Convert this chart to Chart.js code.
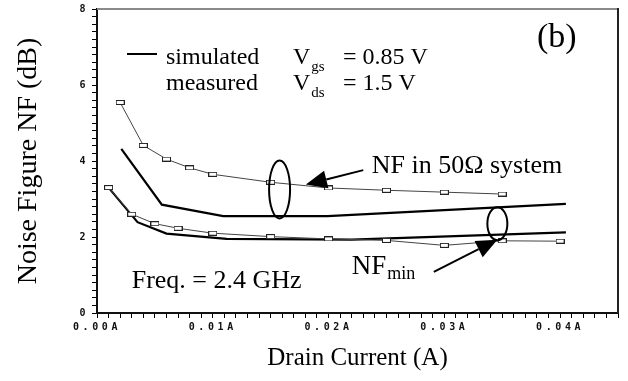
<!DOCTYPE html>
<html>
<head>
<meta charset="utf-8">
<script src="https://cdn.jsdelivr.net/npm/chart.js@4.4.1/dist/chart.umd.min.js"></script>
<style>
  body { margin: 0; background: #fff; }
  #wrap { width: 628px; height: 381px; }
</style>
</head>
<body>
<div id="wrap"><canvas id="nfChart"></canvas></div>
<script>
// Drain current (A) and noise figure (dB)
var measNF50X = [0.002, 0.004, 0.006, 0.008, 0.010, 0.015, 0.020, 0.025, 0.030, 0.035];
var measNF50Y = [5.54, 4.41, 4.05, 3.82, 3.65, 3.44, 3.29, 3.23, 3.18, 3.13];

var measMinX = [0.001, 0.003, 0.005, 0.007, 0.010, 0.015, 0.020, 0.025, 0.030, 0.035, 0.040];
var measMinY = [3.30, 2.60, 2.35, 2.23, 2.10, 2.01, 1.95, 1.91, 1.78, 1.90, 1.89];

var simNF50X = [0.0021, 0.0056, 0.0109, 0.0199, 0.0405];
var simNF50Y = [4.32, 2.85, 2.55, 2.55, 2.87];

var simMinX = [0.001, 0.0035, 0.006, 0.0112, 0.022, 0.0405];
var simMinY = [3.30, 2.39, 2.09, 1.95, 1.93, 2.12];

// axis ticks
var xMax = 0.045;
var xStep = 0.001;
var xLabelEvery = 0.01;
var yMax = 8;
var yStep = 0.2;
var yLabelEvery = 2;

var serif = "'Liberation Serif', 'Times New Roman', serif";
var mono = "'DejaVu Sans Mono', 'Liberation Mono', monospace";

function pts(xs, ys) {
  return xs.map(function (x, i) { return { x: x, y: ys[i] }; });
}
function isMultiple(v, m) {
  var q = v / m;
  return Math.abs(q - Math.round(q)) < 1e-6;
}

// hollow rectangle marker
var marker = document.createElement("canvas");
marker.width = 9;
marker.height = 5;
var mc = marker.getContext("2d");
mc.fillStyle = "#fff";
mc.fillRect(0, 0, 9, 5);
mc.strokeStyle = "#222";
mc.lineWidth = 1;
mc.strokeRect(0.5, 0.5, 8, 4);

// frame, annotations and wide-spaced tick labels
var annotate = {
  id: "annotate",
  beforeDatasetsDraw: function (chart) {
    var ctx = chart.ctx, a = chart.chartArea;
    ctx.save();
    ctx.lineWidth = 2;
    ctx.strokeStyle = "#8a8a8a";
    ctx.beginPath();
    ctx.moveTo(a.left, a.top);
    ctx.lineTo(a.right, a.top);
    ctx.stroke();
    ctx.strokeStyle = "#222";
    ctx.beginPath();
    ctx.moveTo(a.right, a.top - 1);
    ctx.lineTo(a.right, a.bottom);
    ctx.stroke();
    ctx.restore();
  },
  afterDatasetsDraw: function (chart) {
    chart.ctx.letterSpacing = "3.6px";
  },
  afterDraw: function (chart) {
    var ctx = chart.ctx;
    var xs = chart.scales.x, ys = chart.scales.y;
    function px(x) { return xs.getPixelForValue(x); }
    function py(y) { return ys.getPixelForValue(y); }
    ctx.letterSpacing = "0px";
    ctx.save();
    ctx.fillStyle = "#000";
    ctx.strokeStyle = "#000";
    ctx.textAlign = "left";
    ctx.textBaseline = "alphabetic";

    // legend
    ctx.lineWidth = 2;
    ctx.beginPath();
    ctx.moveTo(127, 54);
    ctx.lineTo(157, 54);
    ctx.stroke();
    ctx.font = "24px " + serif;
    ctx.fillText("simulated", 166, 64);
    ctx.fillText("measured", 166, 89.5);

    function sub(main, s, x, y, size, subSize, drop) {
      ctx.font = size + "px " + serif;
      ctx.fillText(main, x, y);
      var w = ctx.measureText(main).width;
      ctx.font = subSize + "px " + serif;
      ctx.fillText(s, x + w + 1, y + drop);
    }
    sub("V", "gs", 293, 64, 24, 15, 7);
    sub("V", "ds", 293, 89.5, 24, 15, 7);
    ctx.font = "24px " + serif;
    ctx.fillText("= 0.85 V", 343, 64);
    ctx.fillText("= 1.5 V", 343, 89.5);

    ctx.font = "34px " + serif;
    ctx.fillText("(b)", 537, 47);

    ctx.font = "26px " + serif;
    ctx.fillText("Freq. = 2.4 GHz", 131.7, 288);
    ctx.fillText("NF in 50\u03A9 system", 371.7, 173);
    sub("NF", "min", 351.7, 274, 27, 18, 5);

    // ellipses
    ctx.lineWidth = 2;
    ctx.beginPath();
    ctx.ellipse(px(0.01577), py(3.25), 10.5, 29, 0, 0, Math.PI * 2);
    ctx.stroke();
    ctx.beginPath();
    ctx.ellipse(px(0.03458), py(2.35), 10, 16.5, 0, 0, Math.PI * 2);
    ctx.stroke();

    // arrows
    function arrow(x0, y0, x1, y1) {
      var ax = px(x0), ay = py(y0), bx = px(x1), by = py(y1);
      var dx = bx - ax, dy = by - ay, len = Math.sqrt(dx * dx + dy * dy);
      var ux = dx / len, uy = dy / len;
      var head = 21, half = 9;
      var cx = bx - ux * head, cy = by - uy * head;
      ctx.lineWidth = 2;
      ctx.beginPath();
      ctx.moveTo(ax, ay);
      ctx.lineTo(cx, cy);
      ctx.stroke();
      ctx.beginPath();
      ctx.moveTo(bx, by);
      ctx.lineTo(cx - uy * half, cy + ux * half);
      ctx.lineTo(cx + uy * half, cy - ux * half);
      ctx.closePath();
      ctx.fill();
    }
    arrow(0.0230, 3.76, 0.01804, 3.38);
    arrow(0.02909, 1.083, 0.03458, 1.93);

    ctx.restore();
  }
};

new Chart("nfChart", {
  type: "line",
  data: {
    datasets: [
      {
        label: "measured NF 50 ohm",
        data: pts(measNF50X, measNF50Y),
        borderColor: "#444",
        borderWidth: 1,
        pointStyle: marker,
        pointRadius: 4,
        fill: false,
        order: 1
      },
      {
        label: "measured NFmin",
        data: pts(measMinX, measMinY),
        borderColor: "#444",
        borderWidth: 1,
        pointStyle: marker,
        pointRadius: 4,
        fill: false,
        order: 1
      },
      {
        label: "simulated NF 50 ohm",
        data: pts(simNF50X, simNF50Y),
        borderColor: "#000",
        borderWidth: 2.2,
        pointRadius: 0,
        fill: false,
        order: 2
      },
      {
        label: "simulated NFmin",
        data: pts(simMinX, simMinY),
        borderColor: "#000",
        borderWidth: 2.2,
        pointRadius: 0,
        fill: false,
        order: 2
      }
    ]
  },
  options: {
    responsive: true,
    maintainAspectRatio: false,
    animation: false,
    layout: { padding: { top: 8, right: 10, left: 0, bottom: 0 } },
    plugins: {
      legend: { display: false },
      tooltip: { enabled: false }
    },
    scales: {
      x: {
        type: "linear",
        min: 0,
        max: xMax,
        afterFit: function (s) { s.height = 68; },
        border: { color: "#111", width: 2 },
        grid: { drawOnChartArea: false, drawTicks: true, tickLength: 5, tickColor: "#000", tickWidth: 1 },
        ticks: {
          stepSize: xStep,
          autoSkip: false,
          maxRotation: 0,
          padding: 3,
          z: 1,
          color: "#111",
          font: { family: mono, weight: "bold", size: 10 },
          callback: function (v) {
            return isMultiple(v, xLabelEvery) ? v.toFixed(2) + "A" : "";
          }
        },
        title: {
          display: true,
          text: "Drain Current (A)",
          color: "#000",
          font: { family: serif, size: 25 },
          padding: { top: 0, bottom: 8 }
        }
      },
      y: {
        min: 0,
        max: yMax,
        afterFit: function (s) { s.width = 97; },
        border: { color: "#111", width: 2 },
        grid: { drawOnChartArea: false, drawTicks: true, tickLength: 5, tickColor: "#000", tickWidth: 1 },
        ticks: {
          stepSize: yStep,
          autoSkip: false,
          padding: 3,
          z: 1,
          color: "#111",
          font: { family: mono, weight: "bold", size: 10 },
          callback: function (v) {
            return isMultiple(v, yLabelEvery) ? String(Math.round(v)) : "";
          }
        },
        title: {
          display: true,
          text: "Noise Figure NF (dB)",
          color: "#000",
          font: { family: serif, size: 28 },
          padding: { top: 12, bottom: 0 }
        }
      }
    }
  },
  plugins: [annotate]
});
</script>
</body>
</html>
